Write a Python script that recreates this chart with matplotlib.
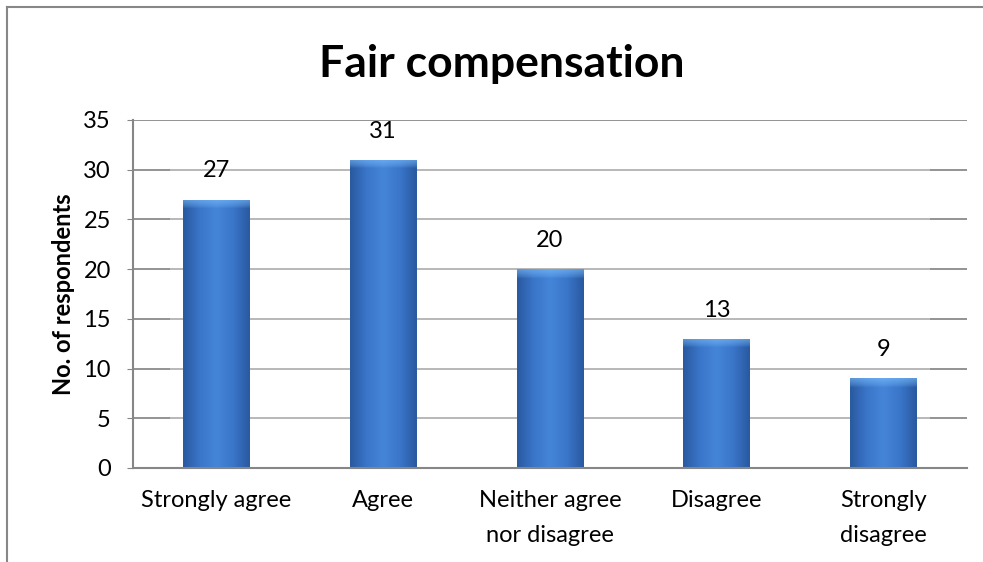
import matplotlib
matplotlib.use('Agg')

import numpy as np
import matplotlib.pyplot as plt
from matplotlib.patches import Rectangle
from matplotlib.lines import Line2D
from matplotlib.colors import LinearSegmentedColormap

plt.rcParams['font.family'] = ['Lato', 'DejaVu Sans']

# survey answers
categories = ['Strongly agree', 'Agree', 'Neither agree\nnor disagree',
              'Disagree', 'Strongly\ndisagree']
respondents = [27, 31, 20, 13, 9]
y_ticks = [0, 5, 10, 15, 20, 25, 30, 35]

fig = plt.figure(figsize=(9.83, 5.62), dpi=100)
ax = fig.add_axes([0.1353, 0.1673, 0.8484, 0.6192])

x = np.arange(len(categories))
bars = ax.bar(x, respondents, width=0.4, color='#3b73c4', zorder=3)

# horizontal shading of the bars, lighter in the middle, bevel at the top
bar_cmap = LinearSegmentedColormap.from_list(
    'barblue', ['#2a5aa0', '#3a76ca', '#4585d8', '#3a76ca', '#2a5aa0'])
cols = np.linspace(0, 1, 60)
for xi, bar, v in zip(x, bars, respondents):
    x0 = bar.get_x()
    w = bar.get_width()
    rows = 400
    img = bar_cmap(np.tile(cols, (rows, 1)))
    bevel = int(rows * 0.9 / v)
    for r in range(bevel):
        t = 1 - r / max(bevel, 1)
        mix = 0.6 * t ** 0.7
        img[rows - 1 - r, :, :3] = img[rows - 1 - r, :, :3] * (1 - mix) + np.array([0.5, 0.76, 1.0]) * mix
    im = ax.imshow(img, extent=[x0, x0 + w, 0, v], origin='lower',
                   aspect='auto', zorder=4, interpolation='bilinear')
    im.set_clip_path(bar)
    ax.annotate(str(v), (xi, v), xytext=(0, 13),
                textcoords='offset points', ha='center', va='bottom',
                fontsize=17, zorder=5)

# soft glow behind the bars that fades the gridlines
ax.add_patch(Rectangle((-0.28, 0), 4.56, 31.5, facecolor='white', alpha=0.35,
                       edgecolor='none', zorder=2))

ax.set_xlim(-0.5, 4.5)
ax.set_ylim(0, 35)
ax.set_yticks(y_ticks)
ax.set_xticks(x)
ax.set_xticklabels(categories, fontsize=17, linespacing=1.8)
ax.tick_params(axis='y', labelsize=17, length=4, color='#868686', pad=12)
ax.tick_params(axis='x', length=0, pad=16)
ax.yaxis.grid(True, color='#8a8a8a', linewidth=1.3, zorder=1)
ax.set_axisbelow(True)
for side in ['top', 'right']:
    ax.spines[side].set_visible(False)
for side in ['left', 'bottom']:
    ax.spines[side].set_color('#868686')
    ax.spines[side].set_linewidth(1.5)
    ax.spines[side].set_zorder(6)

ax.set_ylabel('No. of respondents', fontsize=17, fontweight='bold', labelpad=6)
fig.text(0.51, 0.887, 'Fair compensation', ha='center', va='center',
         fontsize=32, fontweight='bold')

# chart frame, left and top edges
fx = 7 / 983
fy = 1 - 7 / 562
fig.add_artist(Line2D([fx, fx], [0, fy], transform=fig.transFigure,
                      color='#878787', linewidth=1.5))
fig.add_artist(Line2D([fx, 1], [fy, fy], transform=fig.transFigure,
                      color='#878787', linewidth=1.5))

fig.savefig('out.png', dpi=100)
